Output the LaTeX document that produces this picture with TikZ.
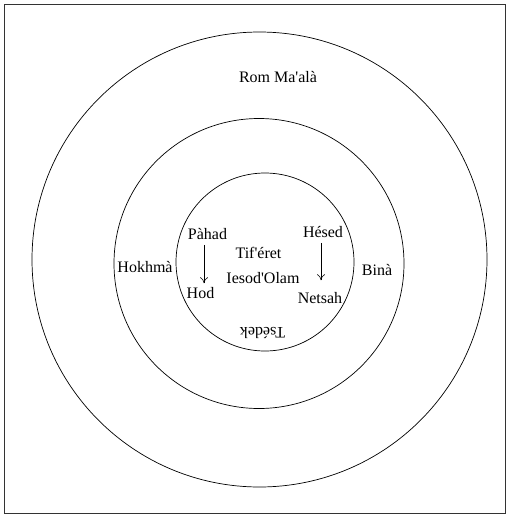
\documentclass[tikz,border=0pt]{standalone}
\usepackage{fontspec}
\setmainfont{Liberation Serif}
\usepackage{tikz}
\usetikzlibrary{arrows,arrows.meta,positioning,calc}
\tikzset{
    ring/.style={draw, line width=0.7pt},
    sefira/.style={inner sep=1pt, font=\fontsize{16}{18}\selectfont},
    flow/.style={-{To[length=6pt,width=8pt]}, line width=0.6pt},
}
\newcommand{\apos}{\textquotesingle}

\begin{document}
\begin{tikzpicture}[x=1pt, y=-1pt]
    \useasboundingbox (0,0) rectangle (509,515);
    \draw[line width=0.6pt, black!80] (4,4) rectangle (505,513);
    % the three rings
    \draw[ring] (259.5,259.5) circle (227.5);
    \draw[ring] (259,263.5) circle (145);
    \draw[ring] (265,262) circle (89);
    \node[sefira] (rom) at (278,77) {Rom Ma\apos al\`a};
    \node[sefira] (hokhma) at (145,267) {Hokhm\`a};
    \node[sefira] (bina) at (377,270) {Bin\`a};
    \node[sefira] (pahad) at (207.5,234) {P\`ahad};
    \node[sefira] (hesed) at (323,232) {H\'esed};
    \node[sefira] (tiferet) at (258.5,253) {Tif\apos\'eret};
    \node[sefira] (iesod) at (263,278) {Iesod\apos Olam};
    \node[sefira] (hod) at (200.5,293) {Hod};
    \node[sefira] (netsah) at (320,298) {Netsah};
    \node[sefira, rotate=180] (tsedek) at (262.5,333) {Ts\'edek};
    % arrows between the pairs
    \draw[flow] ($(pahad.south)+(-3.5,4)$) -- ($(hod.north)+(3.5,-3)$);
    \draw[flow] ($(hesed.south)+(-2,4)$) -- ($(netsah.north)+(1,-11)$);
\end{tikzpicture}
\end{document}
